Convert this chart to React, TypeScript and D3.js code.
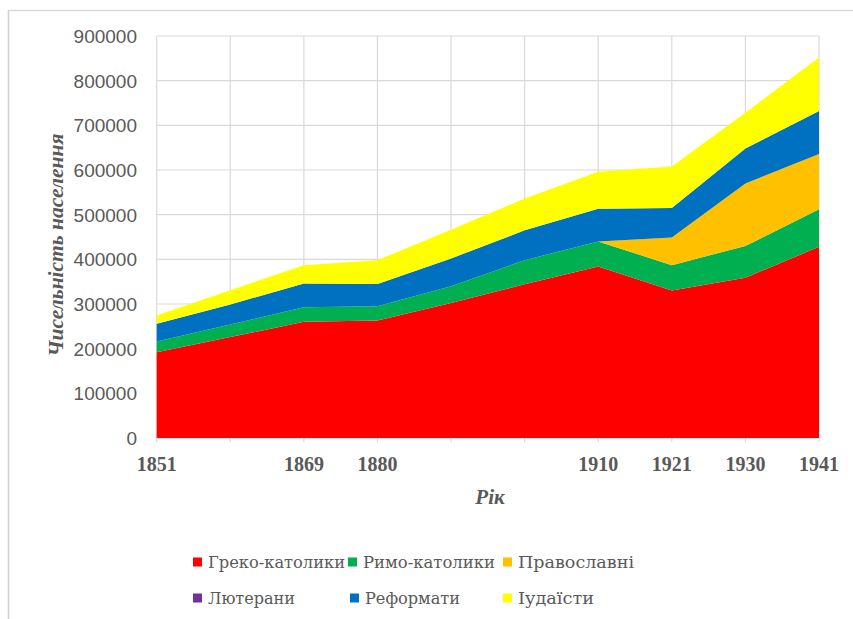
import React from "react";
import * as d3 from "d3";

const categories = ["1851", "", "1869", "1880", "", "", "1910", "1921", "1930", "1941"];
const grekoKatolyky = [192000, 226000, 260000, 263000, 302000, 344000, 384000, 330000, 359000, 428000];
const rymoKatolyky = [24000, 28000, 33000, 32000, 38000, 54000, 56000, 57000, 71000, 84000];
const pravoslavni = [0, 0, 0, 0, 0, 0, 0, 62000, 140000, 124000];
const lyuterany = [0, 0, 0, 0, 0, 0, 0, 0, 0, 0];
const reformaty = [40000, 45000, 53000, 50000, 62000, 67000, 73000, 66000, 78000, 96000];
const iudaisty = [18000, 32000, 41000, 53000, 64000, 71000, 83000, 93000, 80000, 120000];
const seriesNames = ["Греко-католики", "Римо-католики", "Православні", "Лютерани", "Реформати", "Іудаїсти"];
const yTicks = [0, 100000, 200000, 300000, 400000, 500000, 600000, 700000, 800000, 900000];

const colors = ["#ff0000", "#00b050", "#ffc000", "#7030a0", "#0070c0", "#ffff00"];
const serif = "'Liberation Serif', 'DejaVu Serif', serif";
const legendFont = "'DejaVu Serif', 'Liberation Serif', serif";

export default function App() {
  const W = 853, H = 619;
  const left = 156.7, right = 819, top = 36, bottom = 438;
  const seriesArrays = [grekoKatolyky, rymoKatolyky, pravoslavni, lyuterany, reformaty, iudaisty];
  const rows = categories.map((c, i) => {
    const r: any = { i };
    seriesNames.forEach((n, k) => (r[n] = seriesArrays[k][i]));
    return r;
  });
  const stacked = d3.stack<any>().keys(seriesNames)(rows);
  const x = d3.scalePoint<number>().domain(categories.map((_, i) => i)).range([left, right]);
  const y = d3.scaleLinear().domain([0, 900000]).range([bottom, top]);
  const area = d3
    .area<any>()
    .x((d: any) => x(d.data.i) as number)
    .y0((d: any) => y(d[0]))
    .y1((d: any) => y(d[1]));

  const legendPos = [
    [193, 562], [348, 562], [503, 562],
    [193, 598], [350, 598], [503, 598],
  ];
  const legendWidths = [137, 132, 116, 87, 95, 76];

  return (
    <svg width={W} height={H} style={{ position: "absolute", left: 0, top: 0, background: "#fff" }}>
      <rect x={0} y={0} width={W} height={H} fill="#fff" />
      <line x1={8.5} y1={10} x2={8.5} y2={H} stroke="#d0d0d0" strokeWidth={1.5} />
      <line x1={8} y1={10.5} x2={W} y2={10.5} stroke="#d9d9d9" strokeWidth={1.5} />
      {yTicks.map((t) => (
        <line key={"h" + t} x1={left} x2={right} y1={y(t)} y2={y(t)} stroke="#d9d9d9" strokeWidth={1.2} />
      ))}
      {categories.map((_, i) => (
        <line key={"v" + i} x1={x(i)} x2={x(i)} y1={top} y2={bottom + 4} stroke="#d9d9d9" strokeWidth={1.2} />
      ))}
      {stacked.map((s, k) => (
        <path key={s.key} d={area(s as any) || ""} fill={colors[k]} />
      ))}
      {yTicks.map((t) => (
        <text
          key={"yt" + t}
          x={137}
          y={y(t)}
          dy="0.36em"
          textAnchor="end"
          fontFamily="'Liberation Sans', Arial, sans-serif"
          fontSize={19}
          fill="#595959"
        >
          {t}
        </text>
      ))}
      {categories.map((c, i) => (
        <text
          key={"xt" + i}
          x={x(i)}
          y={464}
          dy="0.36em"
          textAnchor="middle"
          fontFamily={serif}
          fontWeight="bold"
          fontSize={20}
          fill="#595959"
        >
          {c}
        </text>
      ))}
      <text
        x={490}
        y={496}
        dy="0.36em"
        textAnchor="middle"
        fontFamily={serif}
        fontWeight="bold"
        fontStyle="italic"
        fontSize={21}
        fill="#595959"
      >
        Рік
      </text>
      <text
        transform={`translate(55,245) rotate(-90)`}
        dy="0.36em"
        textAnchor="middle"
        fontFamily={serif}
        fontWeight="bold"
        fontStyle="italic"
        fontSize={21.5}
        fill="#595959"
      >
        Чисельність населення
      </text>
      {seriesNames.map((n, k) => (
        <g key={"lg" + k} transform={`translate(${legendPos[k][0]},${legendPos[k][1]})`}>
          <rect x={0} y={-4.5} width={9} height={9} fill={colors[k]} />
          <text
            x={15}
            y={0}
            dy="0.36em"
            fontFamily={legendFont}
            fontSize={16.5}
            textLength={legendWidths[k]}
            lengthAdjust="spacingAndGlyphs"
            fill="#595959"
          >
            {n}
          </text>
        </g>
      ))}
    </svg>
  );
}
